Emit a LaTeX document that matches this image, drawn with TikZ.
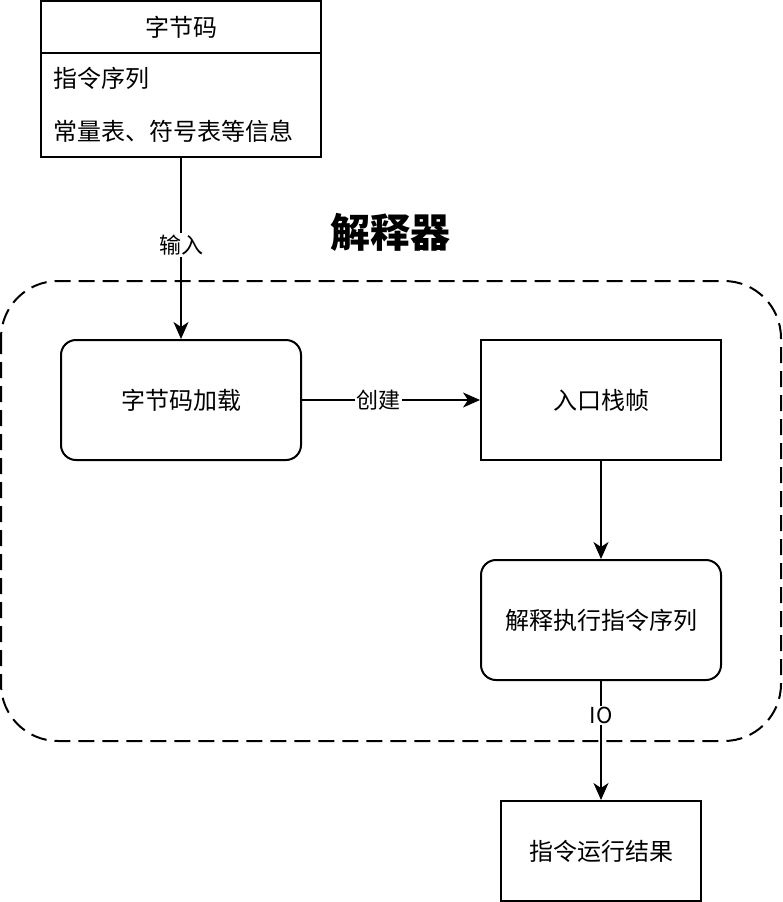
\documentclass[tikz,border=0pt]{standalone}
\usepackage{fontspec}
\setmainfont{Noto Sans CJK SC}
\usetikzlibrary{arrows.meta}
\begin{document}
\begin{tikzpicture}[x=1pt,y=-1pt,
  txt/.style={font=\fontsize{24}{28}\selectfont, inner sep=0pt},
  box/.style={txt, draw, line width=2pt, minimum width=240pt, minimum height=120pt},
  rbox/.style={box, rounded corners=15pt},
  lbl/.style={fill=white, font=\fontsize{22}{26}\selectfont, inner sep=1.5pt},
  arr/.style={line width=2pt, -{Stealth[length=17pt,width=15pt,inset=5pt]}},
  group/.style={line width=2pt, dash pattern=on 16pt off 8pt, rounded corners=57pt}
]
\useasboundingbox (0,0) rectangle (782,902);
% interpreter group
\draw[group] (1,281) rectangle (781,741);
\node[font=\fontsize{40}{48}\selectfont\bfseries, inner sep=0pt] (title) at (390,232) {解释器};
% bytecode class box
\node[box, minimum width=280pt, minimum height=156pt] (bc) at (181,79) {};
\coordinate (hl) at (41,53);
\coordinate (hr) at (321,53);
\draw[line width=2pt] (hl) -- (hr);
\node[txt] (bct) at (181,27) {字节码};
\node[txt, anchor=west] (it1) at (53,78) {指令序列};
\node[txt, anchor=west] (it2) at (53,131) {常量表、符号表等信息};
% process nodes
\node[rbox] (load) at (181,400) {字节码加载};
\node[box] (frame) at (601,400) {入口栈帧};
\node[rbox] (exec) at (601,620) {解释执行指令序列};
\node[box, minimum width=200pt, minimum height=100pt] (res) at (601,851) {指令运行结果};
% connectors
\draw[arr] (bc.south) -- node[lbl, pos=0.48] {输入} (load.north);
\draw[arr] (load.east) -- node[lbl, pos=0.43] {创建} (frame.west);
\draw[arr] (frame.south) -- (exec.north);
\draw[arr] (exec.south) -- node[lbl, pos=0.29] {IO} (res.north);
\end{tikzpicture}
\end{document}
